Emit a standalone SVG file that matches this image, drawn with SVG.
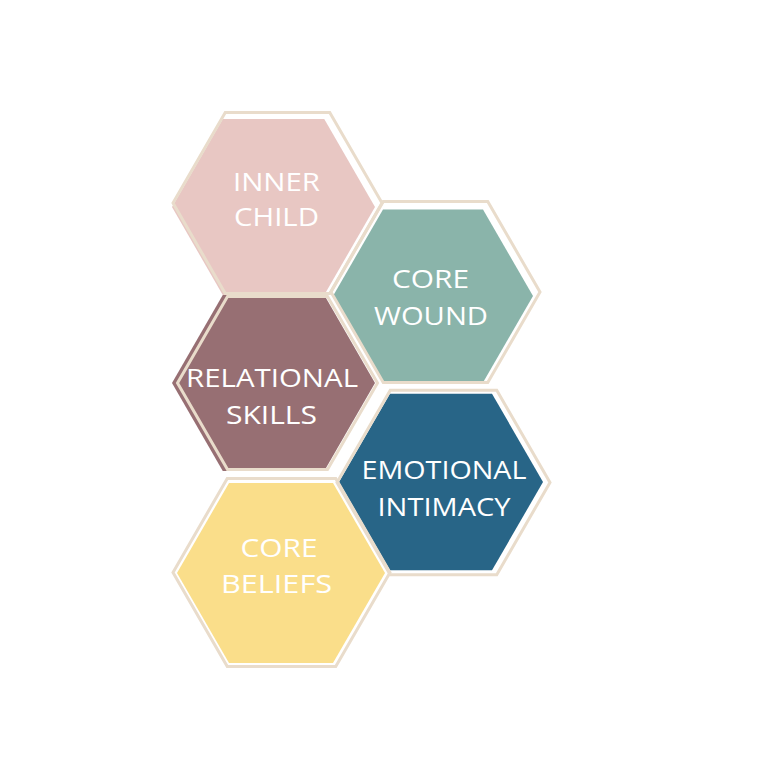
<svg xmlns="http://www.w3.org/2000/svg" width="768" height="768" viewBox="0 0 768 768">
<style>
.ol{fill:none;stroke:#E9DCCB;stroke-width:3;stroke-linejoin:miter}
.t{font-family:"Open Sans","Liberation Sans",sans-serif;font-size:25px;fill:#FFFFFF;text-anchor:middle}
</style>
<rect width="768" height="768" fill="#FFFFFF"/>
<g id="connectors"></g>
<g id="inner-child">
<polygon points="172,207 222.75,119.1 324.25,119.1 375,207 324.25,294.9 222.75,294.9" fill="#E8C7C3"/>
<polygon class="ol" points="173,203 225.25,112.5 329.75,112.5 382,203 329.75,293.5 225.25,293.5"/>
<text class="t" x="276.5" y="191" textLength="87" lengthAdjust="spacingAndGlyphs">INNER</text>
<text class="t" x="276.5" y="226" textLength="85" lengthAdjust="spacingAndGlyphs">CHILD</text>
</g>
<g id="core-wound">
<polygon points="333,296 383,209.4 483,209.4 533,296 483,382.6 383,382.6" fill="#8AB4AA"/>
<polygon class="ol" points="331,292 383.25,201.5 487.75,201.5 540,292 487.75,382.5 383.25,382.5"/>
<text class="t" x="430.5" y="288" textLength="77" lengthAdjust="spacingAndGlyphs">CORE</text>
<text class="t" x="431" y="325" textLength="114" lengthAdjust="spacingAndGlyphs">WOUND</text>
</g>
<g id="relational-skills">
<polygon points="172,383 222.75,295.1 324.25,295.1 375,383 324.25,470.9 222.75,470.9" fill="#976F73"/>
<polygon class="ol" points="177.5,383 227.5,296.4 327.5,296.4 377.5,383 327.5,469.6 227.5,469.6"/>
<text class="t" x="272" y="387" textLength="172" lengthAdjust="spacingAndGlyphs">RELATIONAL</text>
<text class="t" x="271.5" y="424" textLength="91" lengthAdjust="spacingAndGlyphs">SKILLS</text>
</g>
<g id="emotional-intimacy">
<polygon points="339,482 390,393.7 492,393.7 543,482 492,570.3 390,570.3" fill="#286587"/>
<polygon class="ol" points="337,482.5 390.25,390.3 496.75,390.3 550,482.5 496.75,574.7 390.25,574.7"/>
<text class="t" x="444" y="479" textLength="165" lengthAdjust="spacingAndGlyphs">EMOTIONAL</text>
<text class="t" x="444" y="516" textLength="133" lengthAdjust="spacingAndGlyphs">INTIMACY</text>
</g>
<g id="core-beliefs">
<polygon points="177,573 229,483 333,483 385,573 333,663 229,663" fill="#FADE8A"/>
<polygon class="ol" points="173,572.5 227.25,478.5 335.75,478.5 390,572.5 335.75,666.5 227.25,666.5"/>
<text class="t" x="279" y="557" textLength="77" lengthAdjust="spacingAndGlyphs">CORE</text>
<text class="t" x="276.5" y="593" textLength="111" lengthAdjust="spacingAndGlyphs">BELIEFS</text>
</g>
</svg>
